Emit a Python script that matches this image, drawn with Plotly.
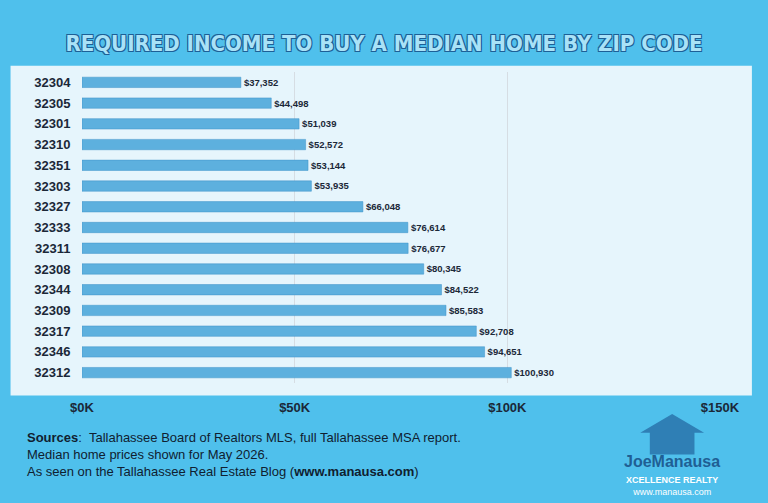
import plotly.graph_objects as go

zips = ["32304", "32305", "32301", "32310", "32351", "32303", "32327", "32333",
        "32311", "32308", "32344", "32309", "32317", "32346", "32312"]
income = [37352, 44498, 51039, 52572, 53144, 53935, 66048, 76614,
          76677, 80345, 84522, 85583, 92708, 94651, 100930]
tick_vals = [0, 50000, 100000, 150000]
tick_text = ["<b>$0K</b>", "<b>$50K</b>", "<b>$100K</b>", "<b>$150K</b>"]

fig = go.Figure()
fig.add_trace(go.Bar(
    y=["<b>" + z + "</b>" for z in zips], x=income, orientation="h",
    marker=dict(color="#5db0de", line=dict(color="#3f93c8", width=0.5)),
    width=0.5,
    text=["<b>$" + format(v, ",") + "</b>" for v in income],
    textposition="outside", cliponaxis=False,
    textfont=dict(family="Liberation Sans", size=11, color="#1b2838"),
))

fig.update_layout(
    width=768, height=503,
    margin=dict(l=82, r=48, t=72, b=120),
    paper_bgcolor="#4fc0ec", plot_bgcolor="rgba(0,0,0,0)",
    showlegend=False,
    font=dict(family="Liberation Sans", color="#1b2838"),
    title=dict(text="<b>REQUIRED INCOME TO BUY A MEDIAN HOME BY ZIP CODE</b>",
               x=0.5, y=0.93, xanchor="center",
               font=dict(family="DejaVu Sans Condensed", size=22, color="#a9e2f7",
                         shadow="1px 1px 0 #1d5f96, -1px -1px 0 #1d5f96, 1px -1px 0 #1d5f96, -1px 1px 0 #1d5f96")),
    xaxis=dict(range=[0, 150000], tickvals=tick_vals, ticktext=tick_text,
               showgrid=True, gridcolor="#d6dde3", zeroline=False,
               ticks="outside", ticklen=12, tickcolor="rgba(0,0,0,0)",
               tickfont=dict(size=13, color="#1b2838", family="Liberation Sans"),
               fixedrange=True),
    yaxis=dict(autorange="reversed", ticks="outside", ticklen=8,
               tickcolor="rgba(0,0,0,0)",
               tickfont=dict(size=13, color="#1b2838", family="Liberation Sans"),
               fixedrange=True),
    shapes=[
        dict(type="rect", xref="paper", yref="paper", x0=-0.112, x1=1.05,
             y0=-0.04, y1=1.02, fillcolor="#e6f5fc", line=dict(width=0), layer="below"),
        dict(type="path", xref="paper", yref="paper",
             path="M 0.875,-0.16 L 0.925,-0.10 L 0.975,-0.16 L 0.96,-0.16 L 0.96,-0.23 "
                  "L 0.89,-0.23 L 0.89,-0.16 Z",
             fillcolor="#2f7fb5", line=dict(width=0)),
    ],
    annotations=[
        dict(xref="paper", yref="paper", x=-0.09, y=-0.145, xanchor="left", yanchor="top",
             align="left", showarrow=False,
             font=dict(size=13, color="#102030"),
             text="<b>Sources</b>:  Tallahassee Board of Realtors MLS, full Tallahassee MSA report.<br>"
                  "Median home prices shown for May 2026.<br>"
                  "As seen on the Tallahassee Real Estate Blog (<b>www.manausa.com</b>)"),
        dict(xref="paper", yref="paper", x=0.925, y=-0.22, xanchor="center", yanchor="top",
             showarrow=False, align="center",
             font=dict(size=16, color="#1f5f94"),
             text="<b>JoeManausa</b>"),
        dict(xref="paper", yref="paper", x=0.925, y=-0.29, xanchor="center", yanchor="top",
             showarrow=False, font=dict(size=9, color="#ffffff"),
             text="<b>XCELLENCE REALTY</b><br>www.manausa.com"),
    ],
)

fig.write_html("out.html", config={"displayModeBar": False},
               post_script="document.body.style.margin='0';")
